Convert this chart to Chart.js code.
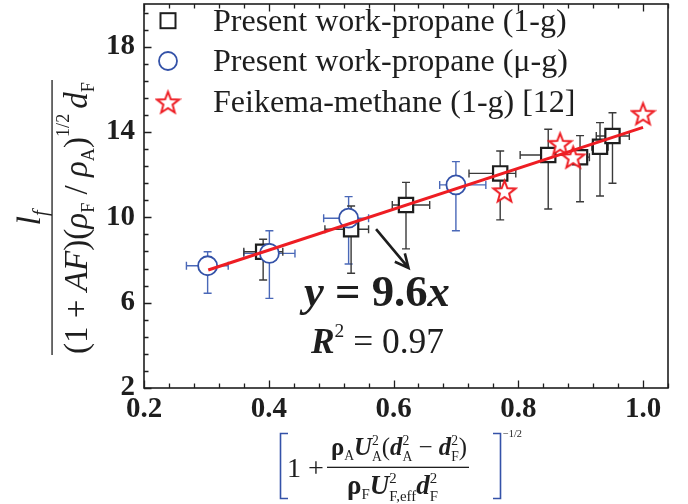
<!DOCTYPE html>
<html>
<head>
<meta charset="utf-8">
<script src="https://cdn.jsdelivr.net/npm/chart.js@4.4.1/dist/chart.umd.min.js"></script>
<style>
  body { margin: 0; background: #fff; }
  #wrap { width: 688px; height: 504px; }
</style>
</head>
<body>
<div id="wrap"><canvas id="myChart" width="688" height="504"></canvas></div>
<script>
// values
const squareX = [0.391, 0.532, 0.620, 0.771, 0.848, 0.899, 0.931, 0.951];
const squareY = [8.39, 9.44, 10.58, 12.06, 12.92, 12.82, 13.31, 13.81];
const squareYLow = [7.06, 7.38, 8.52, 9.88, 10.39, 10.73, 11.0, 11.6];
const squareYHigh = [8.97, 10.53, 11.64, 13.11, 14.13, 13.83, 14.44, 14.9];
const squareXLow = [0.36, 0.49, 0.598, 0.721, 0.803, 0.884, 0.918, 0.925];
const squareXHigh = [0.4225, 0.56, 0.658, 0.796, 0.89, 0.914, 0.944, 0.978];

const circleX = [0.302, 0.401, 0.528, 0.700];
const circleY = [7.73, 8.31, 9.96, 11.52];
const circleYLow = [6.44, 6.2, 7.81, 9.37];
const circleYHigh = [8.39, 9.37, 10.97, 12.61];
const circleXLow = [0.268, 0.36, 0.488, 0.674];
const circleXHigh = [0.335, 0.442, 0.56, 0.748];

const starX = [0.778, 0.867, 0.888, 1.0];
const starY = [11.25, 13.47, 12.84, 14.88];

const fitX = [0.303, 1.0];
const fitY = [7.53, 14.22];

const arrowX = [0.572, 0.624];
const arrowY = [9.45, 7.63];

const xTicks = [0.2, 0.4, 0.6, 0.8, 1.0];
const yTicks = [2, 6, 10, 14, 18];
const legendLabels = ["Present work-propane (1-g)", "Present work-propane (\u03bc-g)", "Feikema-methane (1-g) [12]"];

const ctx = document.getElementById("myChart");
const SERIF = "'Liberation Serif', 'Times New Roman', serif";
const RED = "#ee1d23";
const BLUE = "#3452a8";
const INK = "#1e1e1e";

const pts = (xs, ys) => xs.map((x, i) => ({ x: x, y: ys[i] }));
const fontStr = (st, px) => (st ? st + " " : "") + px + "px " + SERIF;

// star marker as a small canvas
const makeStar = (R, lw) => {
  const c = document.createElement("canvas");
  const s = Math.ceil(R * 2 + 4);
  c.width = s;
  c.height = s;
  const g = c.getContext("2d");
  g.beginPath();
  for (let i = 0; i < 10; i++) {
    const r = i % 2 ? R * 0.42 : R;
    const a = -Math.PI / 2 + (i * Math.PI) / 5;
    const px = s / 2 + r * Math.cos(a);
    const py = s / 2 + 1.5 + r * Math.sin(a);
    i ? g.lineTo(px, py) : g.moveTo(px, py);
  }
  g.closePath();
  g.fillStyle = "#fff";
  g.fill();
  g.lineWidth = lw;
  g.strokeStyle = RED;
  g.stroke();
  return c;
};
const starImg = makeStar(11.5, 2);

// text runs with sub/superscripts
const runsWidth = (g, runs, S) => {
  let w = 0;
  runs.forEach((r) => {
    if (r.stack) {
      g.font = fontStr(r.st || "", S * 0.55);
      w += Math.max(...r.stack.map((s) => g.measureText(s).width));
    } else {
      g.font = fontStr(r.st || "", S * (r.sz || 1));
      w += g.measureText(r.t).width;
    }
    w += (r.gap || 0) * S;
  });
  return w;
};
const drawRuns = (g, x, y, runs, S) => {
  runs.forEach((r) => {
    if (r.stack) {
      g.font = fontStr(r.st || "", S * 0.55);
      g.fillText(r.stack[0], x, y - 0.42 * S);
      g.fillText(r.stack[1], x, y + 0.25 * S);
      x += Math.max(...r.stack.map((s) => g.measureText(s).width));
    } else {
      g.font = fontStr(r.st || "", S * (r.sz || 1));
      g.fillText(r.t, x, y + (r.dy || 0) * S);
      x += g.measureText(r.t).width;
    }
    x += (r.gap || 0) * S;
  });
};
const fitRuns = (g, x, y, runs, S, w) => drawRuns(g, x, y, runs, (S * w) / runsWidth(g, runs, S));

const noPad = (axis) => {
  axis.paddingTop = 0;
  axis.paddingBottom = 0;
  axis.paddingLeft = 0;
  axis.paddingRight = 0;
};

const errorBars = {
  id: "errorBars",
  beforeDatasetsDraw(chart) {
    const g = chart.ctx;
    const xs = chart.scales.x;
    const ys = chart.scales.y;
    chart.data.datasets.forEach((ds) => {
      if (!ds.err) return;
      const e = ds.err;
      g.save();
      g.strokeStyle = ds.errColor;
      g.lineWidth = 1.4;
      ds.data.forEach((p, i) => {
        const cx = xs.getPixelForValue(p.x);
        const cy = ys.getPixelForValue(p.y);
        const y1 = ys.getPixelForValue(e.yLow[i]);
        const y2 = ys.getPixelForValue(e.yHigh[i]);
        const x1 = xs.getPixelForValue(e.xLow[i]);
        const x2 = xs.getPixelForValue(e.xHigh[i]);
        g.beginPath();
        g.moveTo(cx, y1); g.lineTo(cx, y2);
        g.moveTo(cx - 4, y1); g.lineTo(cx + 4, y1);
        g.moveTo(cx - 4, y2); g.lineTo(cx + 4, y2);
        g.moveTo(x1, cy); g.lineTo(x2, cy);
        g.moveTo(x1, cy - 4); g.lineTo(x1, cy + 4);
        g.moveTo(x2, cy - 4); g.lineTo(x2, cy + 4);
        g.stroke();
      });
      g.restore();
    });
  },
};

const decorations = {
  id: "decorations",
  afterDraw(chart) {
    const g = chart.ctx;
    const a = chart.chartArea;
    const xs = chart.scales.x;
    const ys = chart.scales.y;
    g.save();
    g.strokeStyle = INK;
    g.fillStyle = INK;

    // frame
    g.lineWidth = 1.6;
    g.strokeRect(a.left, a.top, a.right - a.left, a.bottom - a.top);

    // inward ticks
    g.lineWidth = 1.3;
    g.beginPath();
    for (let k = 0; ; k++) {
      const v = xs.min + k * 0.04;
      if (v > xs.max + 1e-9) break;
      const major = xTicks.some((t) => Math.abs(t - v) < 1e-6);
      const px = Math.round(xs.getPixelForValue(v)) + 0.5;
      const len = major ? 7.5 : 4.5;
      g.moveTo(px, a.bottom); g.lineTo(px, a.bottom - len);
      g.moveTo(px, a.top); g.lineTo(px, a.top + len);
    }
    for (let k = 0; ; k++) {
      const v = ys.min + k * 0.8;
      if (v > ys.max + 1e-9) break;
      const major = yTicks.some((t) => Math.abs(t - v) < 1e-6);
      const py = Math.round(ys.getPixelForValue(v)) + 0.5;
      g.moveTo(a.left, py); g.lineTo(a.left + (major ? 7.5 : 4.5), py);
    }
    g.stroke();

    // arrow
    const ax1 = xs.getPixelForValue(arrowX[0]);
    const ay1 = ys.getPixelForValue(arrowY[0]);
    const ax2 = xs.getPixelForValue(arrowX[1]);
    const ay2 = ys.getPixelForValue(arrowY[1]);
    const ang = Math.atan2(ay2 - ay1, ax2 - ax1);
    g.lineWidth = 2.6;
    g.beginPath();
    g.moveTo(ax1, ay1); g.lineTo(ax2, ay2);
    g.moveTo(ax2 - 15 * Math.cos(ang - 0.45), ay2 - 15 * Math.sin(ang - 0.45));
    g.lineTo(ax2, ay2);
    g.lineTo(ax2 - 15 * Math.cos(ang + 0.45), ay2 - 15 * Math.sin(ang + 0.45));
    g.stroke();

    // fit equation
    g.textAlign = "left";
    g.textBaseline = "alphabetic";
    fitRuns(g, 304, 306, [
      { t: "y", st: "bold italic" }, { t: " = ", st: "bold" },
      { t: "9.6", st: "bold" }, { t: "x", st: "bold italic" },
    ], 36, 146);
    fitRuns(g, 311, 353, [
      { t: "R", st: "bold italic" }, { t: "2", sz: 0.55, dy: -0.45 },
      { t: " = " }, { t: "0.97" },
    ], 32, 133);

    // legend
    const rows = [20.7, 61, 101.7];
    g.lineWidth = 2;
    g.strokeStyle = INK;
    g.strokeRect(160.5, rows[0] - 7.5, 15, 15);
    g.strokeStyle = BLUE;
    g.lineWidth = 1.8;
    g.beginPath();
    g.arc(168, rows[1], 9, 0, Math.PI * 2);
    g.stroke();
    g.drawImage(starImg, 168 - starImg.width / 2, rows[2] - starImg.height / 2);
    g.fillStyle = INK;
    g.font = fontStr("", 32);
    g.textBaseline = "middle";
    legendLabels.forEach((t, i) => g.fillText(t, 213, rows[i] + 2));

    // y title (rotated fraction)
    g.save();
    g.translate(52, 218);
    g.rotate(-Math.PI / 2);
    g.textBaseline = "alphabetic";
    g.fillRect(-137, -0.6, 275, 1.3);
    const num = [{ t: "l", st: "italic" }, { t: "f", st: "italic", sz: 0.6, dy: 0.22 }];
    const nw = runsWidth(g, num, 34);
    drawRuns(g, -nw / 2, -12, num, 34);
    fitRuns(g, -136, 35, [
      { t: "(1 + " }, { t: "AF", st: "italic" }, { t: ")(" },
      { t: "\u03c1", st: "italic" }, { t: "F", sz: 0.55, dy: 0.2 }, { t: " / " },
      { t: "\u03c1", st: "italic" }, { t: "A", sz: 0.55, dy: 0.2 }, { t: ")" },
      { t: "1/2", sz: 0.55, dy: -0.55, gap: 0.15 }, { t: "d", st: "italic" },
      { t: "F", sz: 0.55, dy: 0.2 },
    ], 32, 272);
    g.restore();

    // x title
    g.textBaseline = "alphabetic";
    g.lineWidth = 1.6;
    g.beginPath();
    g.moveTo(288, 433.5); g.lineTo(280.5, 433.5); g.lineTo(280.5, 498.5); g.lineTo(288, 498.5);
    g.moveTo(493, 433.5); g.lineTo(500.5, 433.5); g.lineTo(500.5, 498.5); g.lineTo(493, 498.5);
    g.stroke();
    g.fillRect(327, 466.7, 142, 1.3);
    fitRuns(g, 287, 477, [{ t: "1 +" }], 28, 37);
    fitRuns(g, 331, 455, [
      { t: "\u03c1", st: "bold" }, { t: "A", sz: 0.55, dy: 0.2 },
      { t: "U", st: "bold italic" }, { stack: ["2", "A"] }, { t: "(" },
      { t: "d", st: "bold italic" }, { stack: ["2", "A"] }, { t: " \u2212 " },
      { t: "d", st: "bold italic" }, { stack: ["2", "F"] }, { t: ")" },
    ], 28, 136);
    fitRuns(g, 347, 494, [
      { t: "\u03c1", st: "bold" }, { t: "F", sz: 0.55, dy: 0.2 },
      { t: "U", st: "bold italic" }, { stack: ["2", "F,eff"] },
      { t: "d", st: "bold italic" }, { stack: ["2", "F"] },
    ], 28, 91);
    fitRuns(g, 503, 437, [{ t: "\u22121/2" }], 16, 19);
    g.restore();
  },
};

new Chart(ctx, {
  type: "scatter",
  data: {
    datasets: [
      {
        label: "fit",
        data: pts(fitX, fitY),
        showLine: true,
        borderColor: RED,
        borderWidth: 3,
        pointRadius: 0,
      },
      {
        label: legendLabels[2],
        data: pts(starX, starY),
        pointStyle: starImg,
        pointRadius: 11,
      },
      {
        label: legendLabels[1],
        data: pts(circleX, circleY),
        pointStyle: "circle",
        pointRadius: 9.5,
        borderColor: BLUE,
        backgroundColor: "#fff",
        borderWidth: 1.8,
        errColor: "#4a68b8",
        err: { xLow: circleXLow, xHigh: circleXHigh, yLow: circleYLow, yHigh: circleYHigh },
      },
      {
        label: legendLabels[0],
        data: pts(squareX, squareY),
        pointStyle: "rect",
        pointRadius: 10.1,
        borderColor: INK,
        backgroundColor: "#fff",
        borderWidth: 2.2,
        errColor: "#3a3a3a",
        err: { xLow: squareXLow, xHigh: squareXHigh, yLow: squareYLow, yHigh: squareYHigh },
      },
    ],
  },
  options: {
    responsive: false,
    animation: false,
    devicePixelRatio: 1,
    events: [],
    layout: { autoPadding: false, padding: { top: 4, right: 20, left: 0, bottom: 0 } },
    plugins: { legend: { display: false }, tooltip: { enabled: false } },
    scales: {
      x: {
        type: "linear",
        min: 0.2,
        max: 1.04,
        grid: { display: false, drawTicks: false },
        border: { display: false },
        afterBuildTicks: (axis) => { axis.ticks = xTicks.map((v) => ({ value: v })); },
        afterFit: (axis) => { axis.height = 116; noPad(axis); },
        ticks: {
          color: INK,
          padding: 4,
          maxRotation: 0,
          autoSkip: false,
          font: { family: SERIF, size: 29, weight: "bold" },
          callback: (v) => v.toFixed(1),
        },
      },
      y: {
        type: "linear",
        min: 2,
        max: 20,
        grid: { display: false, drawTicks: false },
        border: { display: false },
        afterBuildTicks: (axis) => { axis.ticks = yTicks.map((v) => ({ value: v })); },
        afterFit: (axis) => { axis.width = 144; noPad(axis); },
        ticks: {
          color: INK,
          padding: 9,
          font: { family: SERIF, size: 29, weight: "bold" },
          callback: (v) => String(v),
        },
      },
    },
  },
  plugins: [errorBars, decorations],
});
</script>
</body>
</html>
